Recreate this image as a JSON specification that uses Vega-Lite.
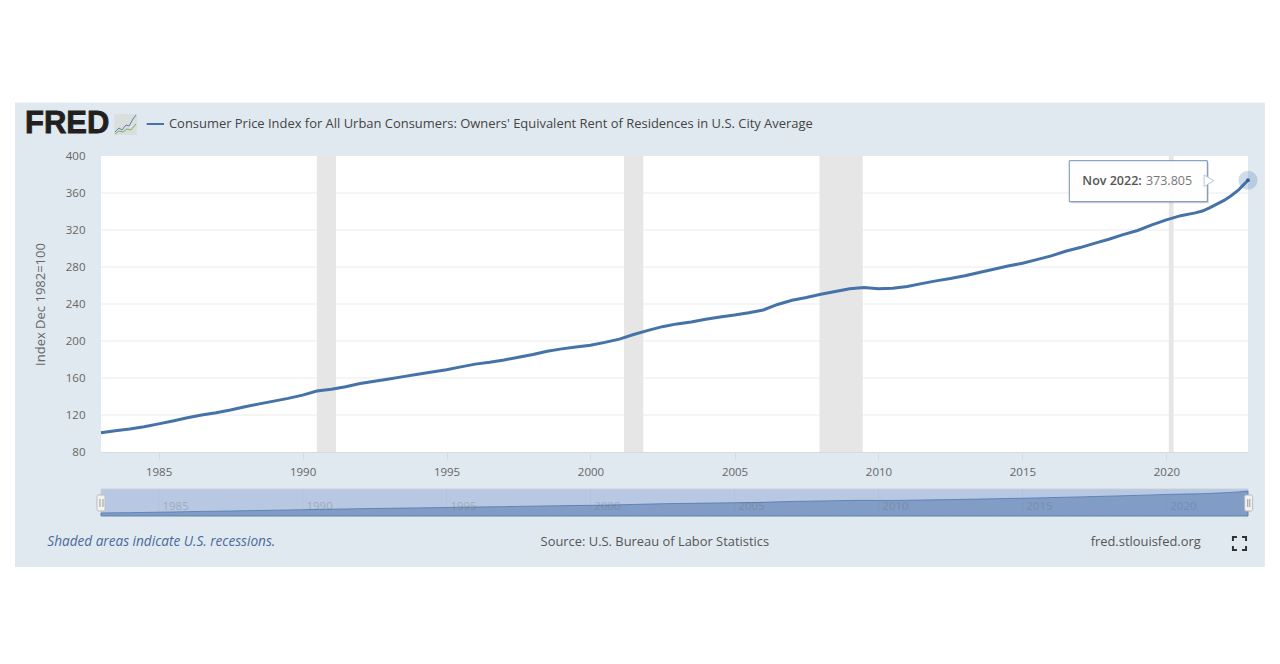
{"$schema":"https://vega.github.io/schema/vega-lite/v6.json","autosize":{"type":"none"},"width":1147,"height":296,"padding":{"left":101,"top":156,"right":32,"bottom":212},"background":"white","view":{"stroke":null},"config":{"font":"Open Sans","text":{"font":"Open Sans"}},"datasets":{"series":[{"date":"1983-01-01","value":100.9},{"date":"1983-07-01","value":103},{"date":"1984-01-01","value":104.8},{"date":"1984-07-01","value":107.2},{"date":"1985-01-01","value":110.4},{"date":"1985-07-01","value":113.5},{"date":"1986-01-01","value":117},{"date":"1986-07-01","value":120},{"date":"1987-01-01","value":122.5},{"date":"1987-07-01","value":125.5},{"date":"1988-01-01","value":129},{"date":"1988-07-01","value":132},{"date":"1989-01-01","value":135},{"date":"1989-07-01","value":138},{"date":"1990-01-01","value":141.5},{"date":"1990-07-01","value":146},{"date":"1991-01-01","value":147.8},{"date":"1991-07-01","value":150.5},{"date":"1992-01-01","value":154},{"date":"1992-07-01","value":156.5},{"date":"1993-01-01","value":159},{"date":"1993-07-01","value":161.5},{"date":"1994-01-01","value":164},{"date":"1994-07-01","value":166.5},{"date":"1995-01-01","value":169},{"date":"1995-07-01","value":172},{"date":"1996-01-01","value":175},{"date":"1996-07-01","value":177},{"date":"1997-01-01","value":179.5},{"date":"1997-07-01","value":182.5},{"date":"1998-01-01","value":185.5},{"date":"1998-07-01","value":189},{"date":"1999-01-01","value":191.5},{"date":"1999-07-01","value":193.5},{"date":"2000-01-01","value":195.5},{"date":"2000-07-01","value":198.5},{"date":"2001-01-01","value":202},{"date":"2001-07-01","value":207},{"date":"2002-01-01","value":211.5},{"date":"2002-07-01","value":215.5},{"date":"2003-01-01","value":218.5},{"date":"2003-07-01","value":220.5},{"date":"2004-01-01","value":223.5},{"date":"2004-07-01","value":226},{"date":"2005-01-01","value":228},{"date":"2005-07-01","value":230.5},{"date":"2006-01-01","value":233.5},{"date":"2006-07-01","value":239.5},{"date":"2007-01-01","value":244},{"date":"2007-07-01","value":247},{"date":"2008-01-01","value":250.5},{"date":"2008-07-01","value":253.5},{"date":"2009-01-01","value":256.5},{"date":"2009-07-01","value":257.8},{"date":"2010-01-01","value":256.5},{"date":"2010-07-01","value":257},{"date":"2011-01-01","value":259},{"date":"2011-07-01","value":262},{"date":"2012-01-01","value":265},{"date":"2012-07-01","value":267.5},{"date":"2013-01-01","value":270.5},{"date":"2013-07-01","value":274},{"date":"2014-01-01","value":277.5},{"date":"2014-07-01","value":281},{"date":"2015-01-01","value":284},{"date":"2015-07-01","value":288},{"date":"2016-01-01","value":292},{"date":"2016-07-01","value":297},{"date":"2017-01-01","value":301},{"date":"2017-07-01","value":305.5},{"date":"2018-01-01","value":310},{"date":"2018-07-01","value":315},{"date":"2019-01-01","value":319.5},{"date":"2019-07-01","value":325.5},{"date":"2020-01-01","value":331},{"date":"2020-07-01","value":335.5},{"date":"2021-01-01","value":338.5},{"date":"2021-04-01","value":340.5},{"date":"2021-07-01","value":344},{"date":"2021-10-01","value":348},{"date":"2022-01-01","value":352},{"date":"2022-04-01","value":357},{"date":"2022-07-01","value":363},{"date":"2022-09-01","value":368.5},{"date":"2022-11-01","value":373.805}]},"resolve":{"scale":{"y":"independent"}},"layer":[{"layer":[{"data":{"values":[{}]},"mark":{"type":"rect","fill":"#e1e9f0"},"encoding":{"x":{"datum":{"year":1980,"month":1,"date":6},"type":"temporal","scale":{"domain":["1983-01-01","2022-11-01"],"nice":false},"axis":{"title":null,"zindex":1,"format":"%Y","tickCount":{"interval":"year","step":5},"grid":false,"domain":true,"domainColor":"#d3dbe5","tickColor":"#d3dbe5","tickSize":8,"labelPadding":6,"labelFont":"Open Sans","labelFontSize":11.5,"labelColor":"#666666"}},"x2":{"datum":{"year":2023,"month":6,"date":3}},"y":{"datum":457.9,"type":"quantitative","scale":{"domain":[80,400],"nice":false,"zero":false},"axis":{"title":"Index Dec 1982=100","zindex":1,"values":[80,120,160,200,240,280,320,360,400],"tickCount":9,"labelOverlap":false,"grid":false,"domain":false,"ticks":false,"labelPadding":16,"labelFont":"Open Sans","labelFontSize":11.5,"labelColor":"#666666","titleFont":"Open Sans","titleFontSize":13,"titleFontWeight":"normal","titleColor":"#666666","titlePadding":18}},"y2":{"datum":-44.3}}},{"data":{"values":[{}]},"mark":{"type":"rect","fill":"#ffffff"},"encoding":{"x":{"datum":{"year":1983,"month":1,"date":1},"type":"temporal"},"x2":{"datum":{"year":2022,"month":11,"date":1}},"y":{"datum":80,"type":"quantitative"},"y2":{"datum":400}}},{"data":{"values":[{"value":120},{"value":160},{"value":200},{"value":240},{"value":280},{"value":320},{"value":360}]},"mark":{"type":"rule","stroke":"#ebebeb","strokeWidth":1},"encoding":{"y":{"field":"value","type":"quantitative"}}},{"data":{"values":[{"start":"1990-07-01","end":"1991-03-01"},{"start":"2001-03-01","end":"2001-11-01"},{"start":"2007-12-15","end":"2009-06-15"},{"start":"2020-02-01","end":"2020-04-01"}]},"mark":{"type":"rect","fill":"#e6e6e6"},"encoding":{"x":{"field":"start","type":"temporal"},"x2":{"field":"end"}}},{"data":{"name":"series"},"mark":{"type":"line","stroke":"#4572a7","strokeWidth":3},"encoding":{"x":{"field":"date","type":"temporal"},"y":{"field":"value","type":"quantitative"}}},{"data":{"values":[{"date":"2022-11-01","value":373.805}]},"mark":{"type":"point","filled":true,"shape":"circle","size":366,"fill":"#4572a7","opacity":0.25},"encoding":{"x":{"field":"date","type":"temporal"},"y":{"field":"value","type":"quantitative"}}},{"data":{"values":[{"date":"2022-11-01","value":373.805}]},"mark":{"type":"point","filled":true,"shape":"circle","size":14,"fill":"#2f5f9f","opacity":1},"encoding":{"x":{"field":"date","type":"temporal"},"y":{"field":"value","type":"quantitative"}}},{"data":{"values":[{}]},"mark":{"type":"rect","fill":"#999999","opacity":0.4},"encoding":{"x":{"datum":{"year":2016,"month":9,"date":5},"type":"temporal"},"x2":{"datum":{"year":2021,"month":6,"date":22}},"y":{"datum":393.3,"type":"quantitative"},"y2":{"datum":349}}},{"data":{"values":[{}]},"mark":{"type":"rect","fill":"#ffffff","fillOpacity":0.97,"stroke":"#6f8fb5","strokeWidth":1},"encoding":{"x":{"datum":{"year":2016,"month":8,"date":17},"type":"temporal"},"x2":{"datum":{"year":2021,"month":6,"date":3}},"y":{"datum":394.9,"type":"quantitative"},"y2":{"datum":350.6}}},{"data":{"values":[{}]},"mark":{"type":"point","filled":true,"shape":"triangle-right","size":130,"fill":"#ffffff","stroke":"#b8c8dc","strokeWidth":1,"opacity":1},"encoding":{"x":{"datum":{"year":2021,"month":6,"date":25},"type":"temporal"},"y":{"datum":373.3,"type":"quantitative"}}},{"data":{"values":[{"label":"Nov 2022:"}]},"mark":{"type":"text","align":"left","baseline":"middle","fontSize":12.5,"fontWeight":600,"fill":"#555555"},"encoding":{"x":{"datum":{"year":2017,"month":1,"date":30},"type":"temporal"},"y":{"datum":373.3,"type":"quantitative"},"text":{"field":"label"}}},{"data":{"values":[{"label":"373.805"}]},"mark":{"type":"text","align":"left","baseline":"middle","fontSize":12.5,"fill":"#777777"},"encoding":{"x":{"datum":{"year":2019,"month":4,"date":16},"type":"temporal"},"y":{"datum":373.3,"type":"quantitative"},"text":{"field":"label"}}},{"data":{"values":[{"label":"FRED"}]},"mark":{"type":"text","align":"left","baseline":"middle","font":"Liberation Sans","fontSize":31,"fontWeight":"bold","fill":"#231f20","stroke":"#231f20","strokeWidth":0.8},"encoding":{"x":{"datum":{"year":1980,"month":5,"date":12},"type":"temporal"},"y":{"datum":434.6,"type":"quantitative"},"text":{"field":"label"}}},{"data":{"values":[{}]},"mark":{"type":"rect","fill":"#d9dfdc"},"encoding":{"x":{"datum":{"year":1983,"month":6,"date":18},"type":"temporal"},"x2":{"datum":{"year":1984,"month":4,"date":1}},"y":{"datum":445.4,"type":"quantitative"},"y2":{"datum":422.7}}},{"data":{"values":[{"s":"blue","date":"1983-06-27","value":425.9},{"s":"blue","date":"1983-08-17","value":430.3},{"s":"blue","date":"1983-09-24","value":428.1},{"s":"blue","date":"1983-11-14","value":433.5},{"s":"blue","date":"1983-12-22","value":432.4},{"s":"blue","date":"1984-02-11","value":440},{"s":"blue","date":"1984-03-20","value":444.3},{"s":"green","date":"1983-06-27","value":423.8},{"s":"green","date":"1983-08-17","value":427},{"s":"green","date":"1983-10-07","value":425.9},{"s":"green","date":"1983-11-27","value":429.2},{"s":"green","date":"1984-01-16","value":428.1},{"s":"green","date":"1984-03-20","value":434.6}]},"mark":{"type":"line","strokeWidth":1},"encoding":{"x":{"field":"date","type":"temporal"},"y":{"field":"value","type":"quantitative"},"color":{"field":"s","type":"nominal","legend":null,"scale":{"domain":["blue","green"],"range":["#5b7fa8","#7fa86a"]}}}},{"data":{"values":[{}]},"mark":{"type":"rule","stroke":"#4572a7","strokeWidth":2},"encoding":{"x":{"datum":{"year":1984,"month":8,"date":3},"type":"temporal"},"x2":{"datum":{"year":1985,"month":3,"date":10}},"y":{"datum":434.6,"type":"quantitative"}}},{"data":{"values":[{"label":"Consumer Price Index for All Urban Consumers: Owners' Equivalent Rent of Residences in U.S. City Average"}]},"mark":{"type":"text","align":"left","baseline":"middle","fontSize":12.95,"fontWeight":500,"fill":"#444444"},"encoding":{"x":{"datum":{"year":1985,"month":5,"date":12},"type":"temporal"},"y":{"datum":434.6,"type":"quantitative"},"text":{"field":"label"}}},{"data":{"values":[{"label":"Shaded areas indicate U.S. recessions."}]},"mark":{"type":"text","align":"left","baseline":"middle","fontSize":13.6,"fontStyle":"italic","fill":"#4a6a9b"},"encoding":{"x":{"datum":{"year":1981,"month":2,"date":19},"type":"temporal"},"y":{"datum":-17,"type":"quantitative"},"text":{"field":"label"}}},{"data":{"values":[{"label":"Source: U.S. Bureau of Labor Statistics"}]},"mark":{"type":"text","align":"left","baseline":"middle","fontSize":12.9,"fill":"#555555"},"encoding":{"x":{"datum":{"year":1998,"month":4,"date":8},"type":"temporal"},"y":{"datum":-17,"type":"quantitative"},"text":{"field":"label"}}},{"data":{"values":[{"label":"fred.stlouisfed.org"}]},"mark":{"type":"text","align":"left","baseline":"middle","fontSize":12.9,"fill":"#555555"},"encoding":{"x":{"datum":{"year":2017,"month":5,"date":15},"type":"temporal"},"y":{"datum":-17,"type":"quantitative"},"text":{"field":"label"}}},{"data":{"values":[{"c":"a","o":1,"date":"2022-04-24","value":-16.2},{"c":"a","o":2,"date":"2022-04-24","value":-11.9},{"c":"a","o":3,"date":"2022-06-14","value":-11.9},{"c":"b","o":1,"date":"2022-08-17","value":-11.9},{"c":"b","o":2,"date":"2022-10-07","value":-11.9},{"c":"b","o":3,"date":"2022-10-07","value":-16.2},{"c":"c","o":1,"date":"2022-04-24","value":-21.6},{"c":"c","o":2,"date":"2022-04-24","value":-25.9},{"c":"c","o":3,"date":"2022-06-14","value":-25.9},{"c":"d","o":1,"date":"2022-08-17","value":-25.9},{"c":"d","o":2,"date":"2022-10-07","value":-25.9},{"c":"d","o":3,"date":"2022-10-07","value":-21.6}]},"mark":{"type":"line","stroke":"#333333","strokeWidth":2},"encoding":{"x":{"field":"date","type":"temporal"},"y":{"field":"value","type":"quantitative"},"detail":{"field":"c"},"order":{"field":"o"}}}]},{"layer":[{"data":{"values":[{}]},"mark":{"type":"rect","fill":"#b9c8e2","stroke":"#c8ced6","strokeWidth":1},"encoding":{"x":{"datum":{"year":1983,"month":1,"date":1},"type":"temporal","title":null},"x2":{"datum":{"year":2022,"month":11,"date":1}},"y":{"datum":63,"type":"quantitative","title":null,"axis":null,"scale":{"domain":[63,399],"range":[360,333],"nice":false,"zero":false}},"y2":{"datum":399}}},{"data":{"name":"series"},"mark":{"type":"area","fill":"#819dc6","stroke":"#4572a7","strokeWidth":0.7},"encoding":{"x":{"field":"date","type":"temporal","title":null},"y":{"field":"value","type":"quantitative","title":null,"axis":null},"y2":{"datum":63}}},{"data":{"values":[{"date":"1985-01-01","label":"1985"},{"date":"1990-01-01","label":"1990"},{"date":"1995-01-01","label":"1995"},{"date":"2000-01-01","label":"2000"},{"date":"2005-01-01","label":"2005"},{"date":"2010-01-01","label":"2010"},{"date":"2015-01-01","label":"2015"},{"date":"2020-01-01","label":"2020"}]},"layer":[{"mark":{"type":"rule","stroke":"#666666","opacity":0.06},"encoding":{"x":{"field":"date","type":"temporal","title":null},"y":{"datum":63,"type":"quantitative","title":null,"axis":null},"y2":{"datum":399}}},{"mark":{"type":"text","dx":17,"baseline":"middle","fontSize":11.5,"fill":"#666666","opacity":0.3},"encoding":{"x":{"field":"date","type":"temporal","title":null},"y":{"datum":171,"type":"quantitative","title":null,"axis":null},"text":{"field":"label"}}}]},{"data":{"values":[{"start":"1982-11-11","end":"1983-02-21"},{"start":"2022-09-20","end":"2022-12-30"}]},"mark":{"type":"rect","fill":"#f2f2f2","stroke":"#bbbbbb","strokeWidth":1,"cornerRadius":1.5},"encoding":{"x":{"field":"start","type":"temporal","title":null},"x2":{"field":"end"},"y":{"datum":324,"type":"quantitative","title":null,"axis":null},"y2":{"datum":125}}},{"data":{"values":[{"date":"1982-12-19"},{"date":"1983-01-26"},{"date":"2022-10-29"},{"date":"2022-11-24"}]},"mark":{"type":"rule","stroke":"#999999","strokeWidth":1},"encoding":{"x":{"field":"date","type":"temporal","title":null},"y":{"datum":274.6,"type":"quantitative","title":null,"axis":null},"y2":{"datum":175}}}]}]}
